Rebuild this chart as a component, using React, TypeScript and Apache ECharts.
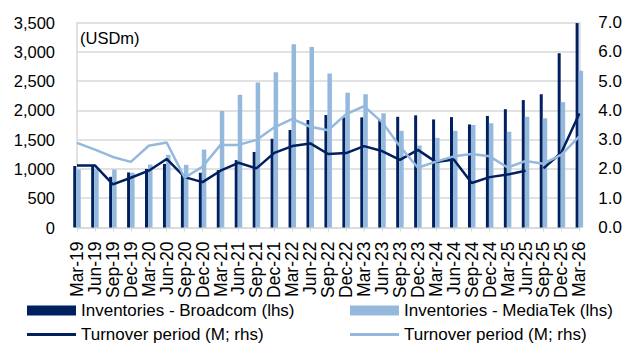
import React, { useEffect, useRef } from 'react';
import * as echarts from 'echarts';

const categories = [
  'Mar-19', 'Jun-19', 'Sep-19', 'Dec-19', 'Mar-20', 'Jun-20', 'Sep-20', 'Dec-20',
  'Mar-21', 'Jun-21', 'Sep-21', 'Dec-21', 'Mar-22', 'Jun-22', 'Sep-22', 'Dec-22',
  'Mar-23', 'Jun-23', 'Sep-23', 'Dec-23', 'Mar-24', 'Jun-24', 'Sep-24', 'Dec-24',
  'Mar-25', 'Jun-25', 'Sep-25', 'Dec-25', 'Mar-26',
];

const broadcomInventories = [
  1050, 1070, 865, 940, 1000, 1085, 900, 935,
  980, 1150, 1290, 1515, 1665, 1835, 1920, 1880,
  1880, 1835, 1890, 1915, 1845, 1885, 1760, 1905,
  2020, 2175, 2275, 2975, 3490,
];

const mediatekInventories = [
  990, 1000, 990, 935, 1075, 1240, 1070, 1330,
  1990, 2265, 2475, 2650, 3130, 3080, 2630, 2300,
  2275, 1950, 1650, 1400, 1530, 1650, 1750, 1780,
  1635, 1890, 1865, 2140, 2675,
];

const broadcomTurnover = [
  2.12, 2.12, 1.47, 1.70, 1.94, 2.34, 1.72, 1.55,
  1.94, 2.21, 2.02, 2.55, 2.78, 2.87, 2.51, 2.54,
  2.78, 2.61, 2.31, 2.65, 2.24, 2.32, 1.52, 1.72,
  1.81, 1.94, null, null, null,
];

const broadcomTurnoverForecast = [
  null, null, null, null, null, null, null, null,
  null, null, null, null, null, null, null, null,
  null, null, null, null, null, null, null, null,
  null, null, 2.02, 2.56, 3.89,
];

const mediatekTurnover = [
  2.89, 2.66, 2.41, 2.24, 2.79, 2.90, 1.70, 2.08,
  2.82, 2.82, 2.99, 3.42, 3.71, 3.44, 3.32, 3.87,
  4.14, 3.60, 2.77, 2.04, 2.25, 2.43, 2.51, 2.43,
  2.05, 2.27, 2.18, 2.49, 3.11,
];

const leftTicks = [0, 3500, 500];
const rightTicks = [0, 7, 1];

const NAME_BAR_AVGO = 'Inventories - Broadcom (lhs)';
const NAME_BAR_MTK = 'Inventories - MediaTek (lhs)';
const NAME_LINE_AVGO = 'Turnover period (M; rhs)';
const NAME_LINE_MTK = 'Turnover period (M; rhs) ';

const DARK = '#002060';
const LIGHT = '#95B9DD';
const GRID = '#d9d9d9';
const FONT = "'Liberation Sans', Arial, sans-serif";

export default function App() {
  const ref = useRef<HTMLDivElement>(null);

  useEffect(() => {
    document.body.style.margin = '0';
    if (!ref.current) return;
    const chart = echarts.init(ref.current, null, { renderer: 'svg' });
    const legendText = { color: '#000', fontSize: 17, fontFamily: FONT };
    const mkLegend = (name: string, left: number, top: number, isLine: boolean) => ({
      left,
      top,
      padding: 0,
      orient: 'horizontal',
      itemGap: 5,
      itemWidth: 49,
      itemHeight: isLine ? 3 : 10,
      textStyle: legendText,
      formatter: (n: string) => n.trim(),
      data: [{ name, icon: 'rect' }],
      selectedMode: false,
    });
    chart.setOption({
      animation: false,
      textStyle: { fontFamily: FONT },
      grid: { left: 77, right: 38, top: 22.5, bottom: 119.5, containLabel: false },
      graphic: [
        {
          type: 'text',
          left: 80,
          top: 29,
          style: { text: '(USDm)', fill: '#000', fontSize: 16.5, fontFamily: FONT },
        },
      ],
      legend: [
        mkLegend(NAME_BAR_AVGO, 27, 302, false),
        mkLegend(NAME_LINE_AVGO, 27, 326, true),
        mkLegend(NAME_BAR_MTK, 350, 302, false),
        mkLegend(NAME_LINE_MTK, 350, 326, true),
      ],
      xAxis: {
        type: 'category',
        data: categories,
        boundaryGap: false,
        axisLine: { show: true, lineStyle: { color: GRID, width: 1.5 } },
        axisTick: { show: true, length: 4, interval: 0, lineStyle: { color: GRID } },
        axisLabel: {
          rotate: 90,
          interval: 0,
          margin: 14,
          color: '#000',
          fontSize: 17.5,
          fontFamily: FONT,
        },
        splitLine: { show: false },
      },
      yAxis: [
        {
          type: 'value',
          min: leftTicks[0],
          max: leftTicks[1],
          interval: leftTicks[2],
          axisLine: { show: true, lineStyle: { color: GRID, width: 1.5 } },
          axisTick: { show: false },
          splitLine: { show: true, lineStyle: { color: GRID, width: 1.5 } },
          axisLabel: {
            margin: 22,
            color: '#000',
            fontSize: 16.5,
            fontFamily: FONT,
            formatter: (v: number) => v.toLocaleString('en-US'),
          },
        },
        {
          type: 'value',
          min: rightTicks[0],
          max: rightTicks[1],
          interval: rightTicks[2],
          position: 'right',
          axisLine: { show: true, lineStyle: { color: GRID, width: 1.5 } },
          axisTick: { show: false },
          splitLine: { show: false },
          axisLabel: {
            margin: 19,
            color: '#000',
            fontSize: 17,
            fontFamily: FONT,
            formatter: (v: number) => v.toFixed(1),
          },
        },
      ],
      series: [
        {
          name: NAME_BAR_AVGO,
          type: 'bar',
          data: broadcomInventories,
          yAxisIndex: 0,
          barWidth: 3,
          barGap: '0%',
          itemStyle: { color: DARK },
          clip: true,
        },
        {
          name: NAME_BAR_MTK,
          type: 'bar',
          data: mediatekInventories,
          yAxisIndex: 0,
          barWidth: 4.5,
          barGap: '0%',
          itemStyle: { color: LIGHT },
          clip: true,
        },
        {
          name: NAME_LINE_AVGO,
          type: 'line',
          data: broadcomTurnover,
          yAxisIndex: 1,
          symbol: 'none',
          lineStyle: { color: DARK, width: 2.5 },
          itemStyle: { color: DARK },
          connectNulls: false,
        },
        {
          name: 'Turnover period forecast',
          type: 'line',
          data: broadcomTurnoverForecast,
          yAxisIndex: 1,
          symbol: 'none',
          lineStyle: { color: DARK, width: 2.5 },
          itemStyle: { color: DARK },
          connectNulls: false,
        },
        {
          name: NAME_LINE_MTK,
          type: 'line',
          data: mediatekTurnover,
          yAxisIndex: 1,
          symbol: 'none',
          lineStyle: { color: LIGHT, width: 2.5 },
          itemStyle: { color: LIGHT },
          connectNulls: false,
        },
      ],
    });
    return () => chart.dispose();
  }, []);

  return <div ref={ref} style={{ width: 625, height: 347 }} />;
}
